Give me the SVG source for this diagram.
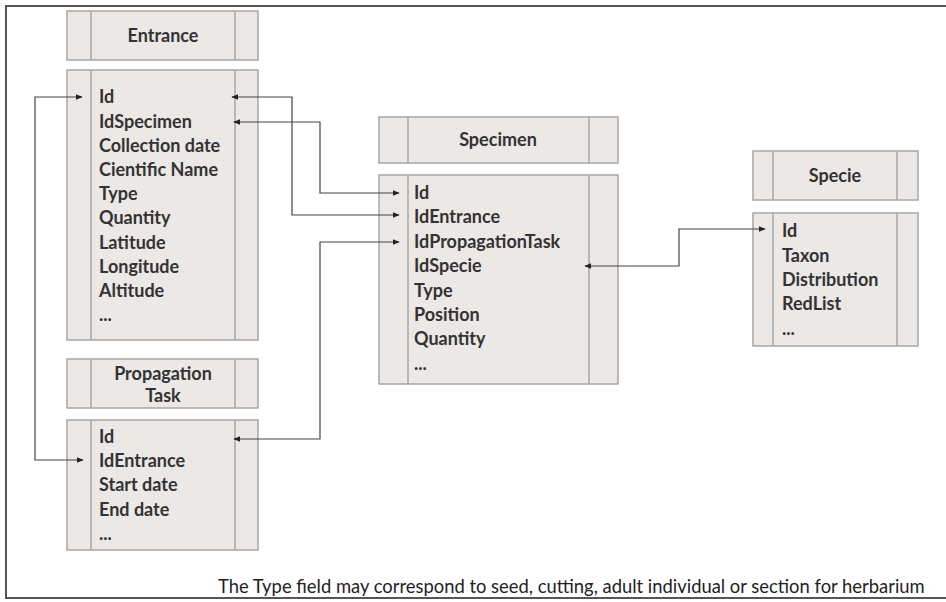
<svg xmlns="http://www.w3.org/2000/svg" width="946" height="602" viewBox="0 0 946 602">
<defs>
<style>
.box{fill:#ebe8e5;stroke:#a9a7a5;stroke-width:1.5}
.div{stroke:#a9a7a5;stroke-width:1.5;fill:none}
.t{font-family:Lato,"Noto Sans",sans-serif;font-weight:bold;font-size:18px;fill:#333}
.h{font-family:Lato,"Noto Sans",sans-serif;font-weight:bold;font-size:18px;fill:#333;text-anchor:middle}
.c{fill:none;stroke:#444;stroke-width:1.2}
.note{font-family:Lato,"Noto Sans",sans-serif;font-size:18.4px;fill:#222}
</style>
<marker id="ah" viewBox="0 0 10 10" refX="9" refY="5" markerWidth="7" markerHeight="7" orient="auto-start-reverse" markerUnits="userSpaceOnUse">
<path d="M0,1 L10,5 L0,9 z" fill="#222"/>
</marker>
</defs>
<rect x="0" y="0" width="946" height="602" fill="#fff"/>
<g id="frame" fill="none" stroke="#555" stroke-width="2">
<path d="M946,6 H6 V598 H946"/>
</g>

<g id="entrance">
<rect class="box" x="67" y="11" width="191" height="49"/>
<path class="div" d="M91,11 V60 M235,11 V60"/>
<text class="h" x="163" y="42">Entrance</text>
<rect class="box" x="67" y="70" width="191" height="270"/>
<path class="div" d="M91,70 V340 M235,70 V340"/>
<text class="t" x="99" y="103">Id</text>
<text class="t" x="99" y="128">IdSpecimen</text>
<text class="t" x="99" y="152">Collection date</text>
<text class="t" x="99" y="176">Cientific Name</text>
<text class="t" x="99" y="200">Type</text>
<text class="t" x="99" y="224">Quantity</text>
<text class="t" x="99" y="249">Latitude</text>
<text class="t" x="99" y="273">Longitude</text>
<text class="t" x="99" y="297">Altitude</text>
<text class="t" x="99" y="321">...</text>
</g>

<g id="propagation">
<rect class="box" x="67" y="359" width="191" height="49"/>
<path class="div" d="M91,359 V408 M235,359 V408"/>
<text class="h" x="163" y="380">Propagation</text>
<text class="h" x="163" y="402">Task</text>
<rect class="box" x="67" y="420" width="191" height="130"/>
<path class="div" d="M91,420 V550 M235,420 V550"/>
<text class="t" x="99" y="443">Id</text>
<text class="t" x="99" y="467">IdEntrance</text>
<text class="t" x="99" y="491">Start date</text>
<text class="t" x="99" y="516">End date</text>
<text class="t" x="99" y="540">...</text>
</g>

<g id="specimen">
<rect class="box" x="379" y="117" width="239" height="46"/>
<path class="div" d="M408,117 V163 M589,117 V163"/>
<text class="h" x="498" y="146">Specimen</text>
<rect class="box" x="379" y="175" width="239" height="209"/>
<path class="div" d="M408,175 V384 M589,175 V384"/>
<text class="t" x="414" y="199">Id</text>
<text class="t" x="414" y="223">IdEntrance</text>
<text class="t" x="414" y="248">IdPropagationTask</text>
<text class="t" x="414" y="272">IdSpecie</text>
<text class="t" x="414" y="297">Type</text>
<text class="t" x="414" y="321">Position</text>
<text class="t" x="414" y="345">Quantity</text>
<text class="t" x="414" y="370">...</text>
</g>

<g id="specie">
<rect class="box" x="753" y="151" width="165" height="49"/>
<path class="div" d="M773,151 V200 M897,151 V200"/>
<text class="h" x="835" y="182">Specie</text>
<rect class="box" x="753" y="213" width="165" height="133"/>
<path class="div" d="M773,213 V346 M897,213 V346"/>
<text class="t" x="782" y="237">Id</text>
<text class="t" x="782" y="262">Taxon</text>
<text class="t" x="782" y="286">Distribution</text>
<text class="t" x="782" y="310">RedList</text>
<text class="t" x="782" y="335">...</text>
</g>

<g id="connectors">
<path class="c" d="M82,97 H35 V460 H83" marker-start="url(#ah)" marker-end="url(#ah)"/>
<path class="c" d="M232,97 H292 V215 H399" marker-start="url(#ah)" marker-end="url(#ah)"/>
<path class="c" d="M234,122 H320 V193 H399" marker-start="url(#ah)" marker-end="url(#ah)"/>
<path class="c" d="M234,439 H320 V242 H399" marker-start="url(#ah)" marker-end="url(#ah)"/>
<path class="c" d="M585,266 H679 V229 H765" marker-start="url(#ah)" marker-end="url(#ah)"/>
</g>

<g id="footnote">
<text class="note" x="218" y="593">The Type field may correspond to seed, cutting, adult individual or section for herbarium</text>
</g>
</svg>
